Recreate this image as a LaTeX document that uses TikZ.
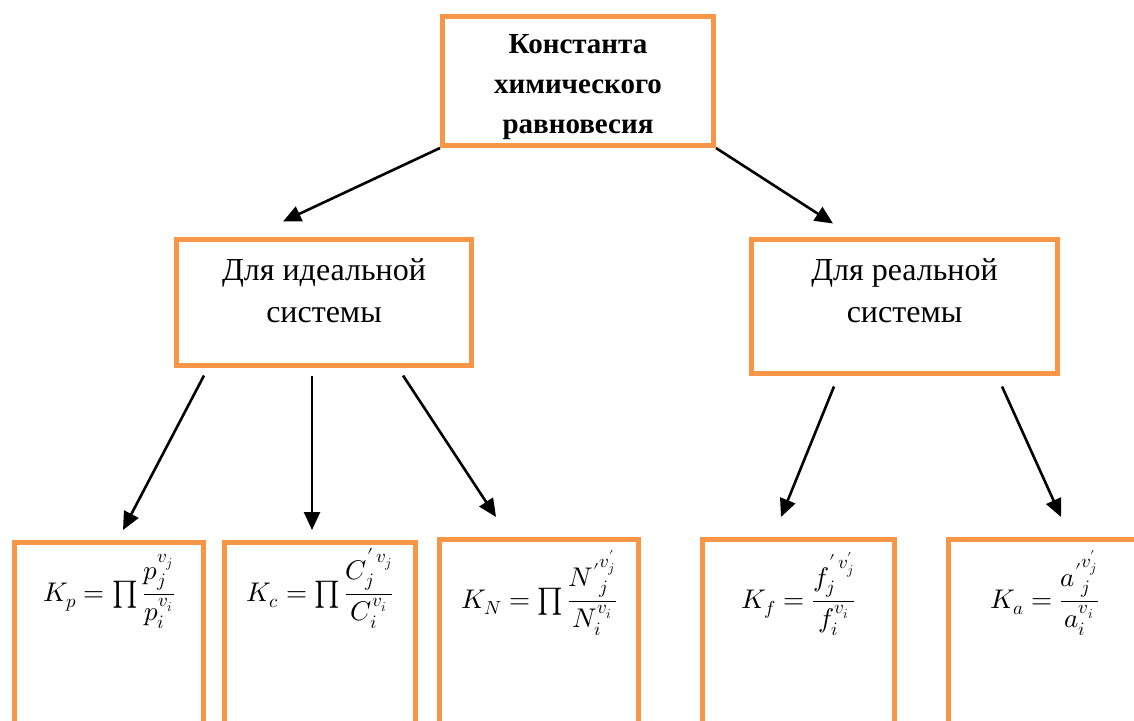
\documentclass[tikz,border=0pt]{standalone}
\usepackage{amsmath}
\usepackage{fontspec}
\usepackage{unicode-math}
\setmainfont{Liberation Serif}
\setmathfont{Latin Modern Math}
\usetikzlibrary{arrows.meta}
\definecolor{boxorange}{RGB}{247,150,70}

\begin{document}
\begin{tikzpicture}[
    x=1pt, y=-1pt,
    block/.style={rectangle, draw=boxorange, line width=5pt, fill=white, align=center, inner sep=0pt},
    topblock/.style={block, minimum width=271pt, minimum height=129pt, text height=112pt, text depth=8pt, font=\fontsize{29}{40}\selectfont\bfseries},
    sysblock/.style={block, text depth=8pt, font=\fontsize{32}{42}\selectfont},
    formblock/.style={block, anchor=north, text height=59pt, text depth=200pt, font=\fontsize{27}{30}\selectfont},
    arrow/.style={-{Triangle[length=18pt,width=16pt]}, line width=2.6pt, black}
]
    \useasboundingbox (0,0) rectangle (1134,720);
    \clip (0,0) rectangle (1134,720);

    % Константа
    \node[topblock] (konst) at (578,81) {Константа\\химического\\равновесия};

    % Идеальная и реальная системы
    \node[sysblock, minimum width=295pt, minimum height=126pt, text height=47pt] (ideal) at (324,302.5) {Для идеальной\\системы};
    \node[sysblock, minimum width=306pt, minimum height=134pt, text height=39pt] (real) at (904.5,306.5) {Для реальной\\системы};

    % Выражения констант
    \node[formblock, minimum width=189pt] (kp) at (109,539.5) {$K_p=\prod\dfrac{p_j^{v_j}}{p_i^{v_i}}$};
    \node[formblock, minimum width=191pt] (kc) at (320,539.5) {$K_c=\prod\dfrac{C_j^{\prime\,v_j}}{C_i^{v_i}}$};
    \node[formblock, minimum width=199pt, text height=69pt] (kn) at (539,536.5) {$K_N=\prod\dfrac{{N'}^{v'_j}_j}{N_i^{v_i}}$};
    \node[formblock, minimum width=192pt, text height=69pt] (kf) at (798.5,536.5) {$K_f=\dfrac{f_j^{\prime\,v'_j}}{f_i^{v_i}}$};
    \node[formblock, minimum width=192pt, text height=69pt] (ka) at (1044.5,536.5) {$K_a=\dfrac{{a'}^{v'_j}_j}{a_i^{v_i}}$};

    \draw[arrow] (konst.south west) -- ([xshift=-41pt,yshift=15.5pt]ideal.north);
    \draw[arrow] (konst.south east) -- ([xshift=-71.5pt,yshift=13.5pt]real.north);

    \draw[arrow] ([xshift=-120pt,yshift=-7.5pt]ideal.south) -- ([xshift=14pt,yshift=9.5pt]kp.north);
    \draw[arrow] ([xshift=-12pt,yshift=-7.5pt]ideal.south) -- ([xshift=-8pt,yshift=9.5pt]kc.north);
    \draw[arrow] ([xshift=79pt,yshift=-7.5pt]ideal.south) -- ([xshift=-43pt,yshift=19.5pt]kn.north);
    \draw[arrow] ([xshift=-70.5pt,yshift=-10.5pt]real.south) -- ([xshift=-17.5pt,yshift=19.5pt]kf.north);
    \draw[arrow] ([xshift=97.5pt,yshift=-10.5pt]real.south) -- ([xshift=16.5pt,yshift=19.5pt]ka.north);
\end{tikzpicture}
\end{document}
